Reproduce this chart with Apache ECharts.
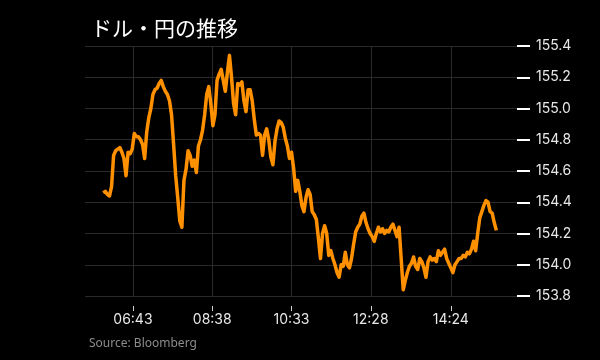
<!DOCTYPE html>
<html>
<head>
<meta charset="utf-8">
<script src="https://cdn.jsdelivr.net/npm/echarts@6/dist/echarts.min.js"></script>
<style>
html,body{margin:0;padding:0;background:#000;}
#chart{width:600px;height:360px;}
</style>
</head>
<body>
<div id="chart"></div>
<script>
var times = ["06:00","06:03","06:06","06:09","06:12","06:15","06:18","06:21","06:24","06:27",
"06:30","06:33","06:36","06:39","06:42","06:45","06:48","06:51","06:54","06:57",
"07:00","07:03","07:06","07:09","07:12","07:15","07:18","07:21","07:24","07:27",
"07:30","07:33","07:36","07:39","07:42","07:45","07:48","07:51","07:54","07:57",
"08:00","08:03","08:06","08:09","08:12","08:15","08:18","08:21","08:24","08:27",
"08:30","08:33","08:36","08:39","08:42","08:45","08:48","08:51","08:54","08:57",
"09:00","09:03","09:06","09:09","09:12","09:15","09:18","09:21","09:24","09:27",
"09:30","09:33","09:36","09:39","09:42","09:45","09:48","09:51","09:54","09:57",
"10:00","10:03","10:06","10:09","10:12","10:15","10:18","10:21","10:24","10:27",
"10:30","10:33","10:36","10:39","10:42","10:45","10:48","10:51","10:54","10:57",
"11:00","11:03","11:06","11:09","11:12","11:15","11:18","11:21","11:24","11:27",
"11:30","11:33","11:36","11:39","11:42","11:45","11:48","11:51","11:54","11:57",
"12:00","12:03","12:06","12:09","12:12","12:15","12:18","12:21","12:24","12:27",
"12:30","12:33","12:36","12:39","12:42","12:45","12:48","12:51","12:54","12:57",
"13:00","13:03","13:06","13:09","13:12","13:15","13:18","13:21","13:24","13:27",
"13:30","13:33","13:36","13:39","13:42","13:45","13:48","13:51","13:54","13:57",
"14:00","14:03","14:06","14:09","14:12","14:15","14:18","14:21","14:24","14:27",
"14:30","14:33","14:36","14:39","14:42","14:45","14:48","14:51","14:54","14:57",
"15:00","15:03","15:06","15:09","15:12","15:15","15:18","15:21","15:24","15:27",
"15:30"];
var prices = [154.46,154.47,154.45,154.44,154.50,154.70,154.73,154.74,154.75,154.72,
154.68,154.57,154.72,154.71,154.74,154.84,154.82,154.82,154.80,154.77,
154.68,154.85,154.94,155.00,155.09,155.12,155.13,155.16,155.18,155.14,
155.11,155.09,155.05,154.96,154.77,154.57,154.43,154.28,154.24,154.54,
154.61,154.73,154.70,154.63,154.67,154.59,154.76,154.80,154.86,154.96,
155.09,155.14,155.03,154.89,154.96,155.18,155.22,155.25,155.18,155.11,
155.23,155.34,155.20,155.03,154.96,155.16,155.15,155.17,155.05,154.98,
155.12,155.12,155.05,154.93,154.83,154.84,154.83,154.70,154.83,154.87,
154.80,154.69,154.64,154.79,154.87,154.92,154.91,154.88,154.81,154.76,
154.68,154.72,154.62,154.47,154.54,154.47,154.38,154.34,154.43,154.48,
154.45,154.34,154.32,154.29,154.17,154.04,154.20,154.25,154.20,154.06,
154.09,154.04,154.00,153.95,153.92,154.00,153.99,154.08,154.00,153.98,
154.04,154.13,154.21,154.24,154.26,154.31,154.33,154.27,154.23,154.20,
154.18,154.15,154.20,154.24,154.21,154.23,154.20,154.22,154.21,154.24,
154.26,154.22,154.18,154.24,154.04,153.84,153.90,153.95,153.99,154.01,
154.05,153.99,153.97,154.04,154.02,153.98,153.92,154.02,154.05,154.03,
154.04,154.02,154.09,154.06,154.08,154.10,154.04,154.01,153.98,153.95,
154.00,154.02,154.04,154.04,154.06,154.05,154.08,154.07,154.10,154.15,
154.09,154.20,154.30,154.34,154.38,154.41,154.40,154.34,154.33,154.27,
154.22];
var xTickLabels = ["06:43","08:38","10:33","12:28","14:24"];
var xMin = "05:33";
var xMax = "16:00";
var yTicks = [153.8,154.0,154.2,154.4,154.6,154.8,155.0,155.2,155.4];
var titleText = "ドル・円の推移";
var sourceText = "Source: Bloomberg";

function toMin(s){var p=s.split(":");return (+p[0])*60+(+p[1]);}
function fmt(m){m=Math.round(m);var h=Math.floor(m/60),mm=m%60;return (h<10?"0":"")+h+":"+(mm<10?"0":"")+mm;}

var tickVals = xTickLabels.map(toMin);
var seriesData = times.map(function(t,i){return [toMin(t),prices[i]];});

var chart = echarts.init(document.getElementById('chart'), null, {renderer:'canvas'});
chart.setOption({
  backgroundColor:'#000',
  animation:false,
  title:[{
    text:titleText, left:86, top:13,
    textStyle:{color:'#ffffff',fontSize:21,fontWeight:'normal',fontFamily:'"Noto Sans CJK JP", sans-serif'}
  },{
    text:sourceText, left:84, top:333,
    textStyle:{color:'#8c8c8c',fontSize:12,fontWeight:'normal',fontFamily:'"Noto Sans", sans-serif'}
  }],
  grid:{left:85,right:83,top:46,bottom:64,containLabel:false},
  xAxis:{
    type:'value',
    min:toMin(xMin)+0.5, max:toMin(xMax),
    offset:10,
    axisLine:{show:false},
    axisTick:{show:true,length:5,customValues:tickVals,lineStyle:{color:'#d0d0d0',width:1}},
    axisLabel:{customValues:tickVals,margin:7,color:'#e8e8e8',fontSize:14,fontFamily:'Inter, "Noto Sans", sans-serif',formatter:function(v){return fmt(v);}},
    splitLine:{show:true,lineStyle:{color:'#2a2a2a',width:1}}
  },
  yAxis:{
    type:'value',
    position:'right',
    min:yTicks[0], max:yTicks[yTicks.length-1], interval:0.2,
    axisLine:{show:false},
    axisTick:{show:true,length:13,lineStyle:{color:'#ffffff',width:2}},
    axisLabel:{margin:19,color:'#e8e8e8',fontSize:14,fontFamily:'Inter, "Noto Sans", sans-serif',formatter:function(v){return v.toFixed(1);}},
    splitLine:{show:true,lineStyle:{color:'#2a2a2a',width:1}}
  },
  series:[{
    type:'line',
    data:seriesData,
    showSymbol:false,
    symbol:'none',
    lineStyle:{color:'#ff9000',width:3.5,join:'round'},
    itemStyle:{color:'#ff9000'}
  }]
});
</script>
</body>
</html>
